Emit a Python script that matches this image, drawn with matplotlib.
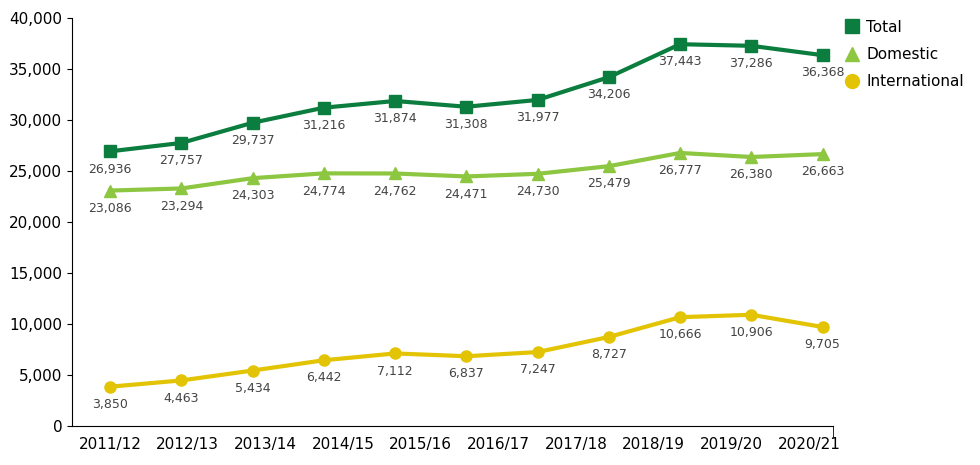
import matplotlib.pyplot as plt
import numpy as np

years = ["2011/12", "2012/13", "2013/14", "2014/15", "2015/16", "2016/17",
         "2017/18", "2018/19", "2019/20", "2020/21"]
total = [26936, 27757, 29737, 31216, 31874, 31308, 31977, 34206, 37443, 37286, 36368]
domestic = [23086, 23294, 24303, 24774, 24762, 24471, 24730, 25479, 26777, 26380, 26663]
international = [3850, 4463, 5434, 6442, 7112, 6837, 7247, 8727, 10666, 10906, 9705]

fig = plt.figure(figsize=(9.8, 4.65), dpi=100)
ax = fig.add_axes([0.0735, 0.084, 0.776, 0.877])

x = np.arange(len(total))
series = [
    (total, "#0b7d3e", "s", "Total"),
    (domestic, "#8dc641", "^", "Domestic"),
    (international, "#e3c404", "o", "International"),
]
for vals, col, mk, lab in series:
    ax.plot(x, vals, color=col, lw=3, marker=mk, ms=8)
    ax.plot([], [], color=col, marker=mk, ms=10, ls="none", label=lab)
    for xi, v in zip(x, vals):
        ax.text(xi, v - 1100, f"{v:,}", ha="center", va="top", fontsize=9, color="#444444")

ax.set_ylim(0, 40000)
ax.set_xlim(-0.534, 10.14)
ax.set_yticks(range(0, 40001, 5000))
ax.set_yticklabels([f"{v:,}" for v in range(0, 40001, 5000)], fontsize=11)
# year labels are spaced slightly wider than the data points
ax.set_xticks(np.arange(len(years)) * 77.6 / 71.2)
ax.set_xticklabels(years, fontsize=11)
ax.tick_params(axis="x", length=0, pad=8)
ax.set_xticks([10.14], minor=True)
ax.tick_params(axis="x", which="minor", length=8)
for s in ["top", "right"]:
    ax.spines[s].set_visible(False)

ax.legend(loc="upper left", bbox_to_anchor=(1.0, 1.03), frameon=False, fontsize=11,
          handlelength=0.8, handletextpad=0.5, labelspacing=0.8)
fig.savefig("out.png", dpi=100)
